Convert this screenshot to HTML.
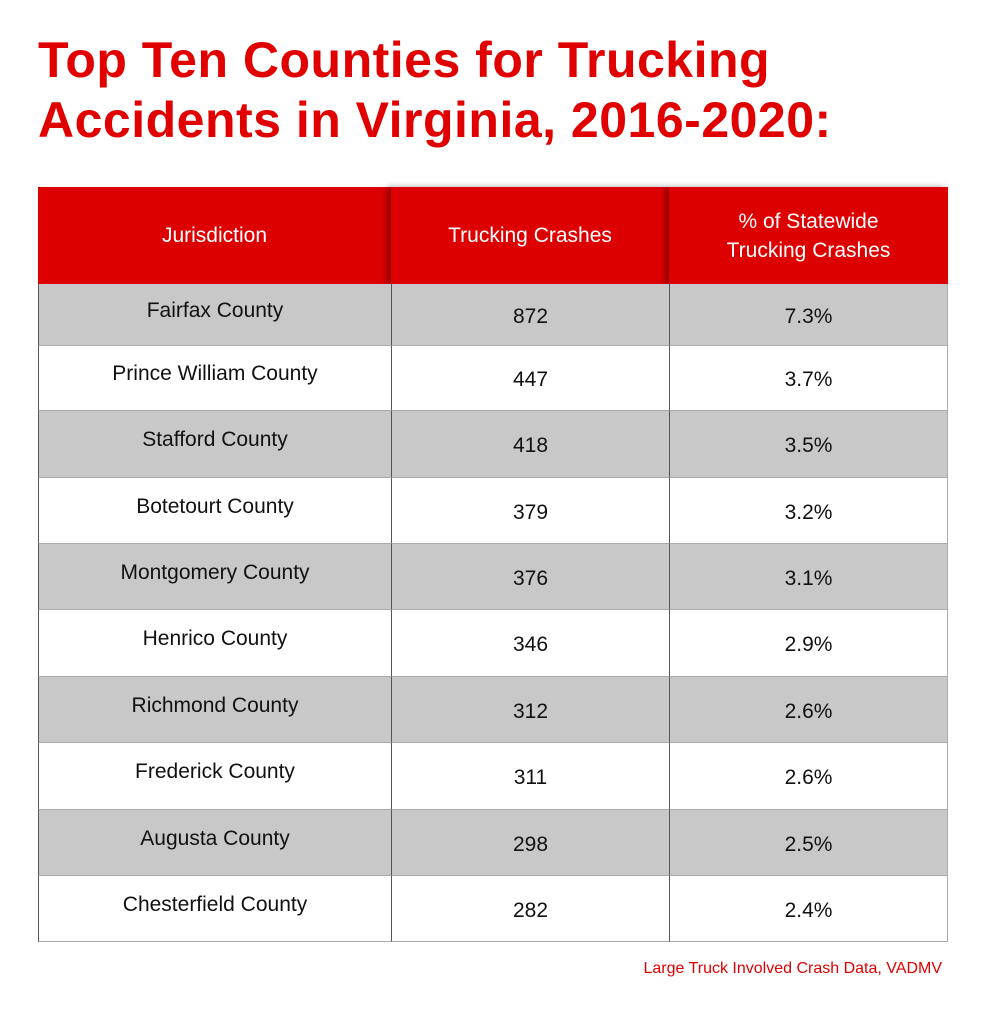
<!DOCTYPE html>
<html><head><meta charset="utf-8"><style>
body{margin:0;width:982px;height:1013px;background:#fff;font-family:"Liberation Sans",sans-serif;position:relative;overflow:hidden}
h1{position:absolute;left:38px;top:30px;margin:0;color:#e00000;font-size:50px;line-height:60px;font-weight:900;letter-spacing:0.5px}
.c{position:absolute;display:flex;align-items:center;justify-content:center;text-align:center;font-size:21px;color:#111;box-sizing:border-box}
.h{background:#dd0000;color:#fff;font-size:21px;line-height:29px}
.src{position:absolute;right:40px;top:960px;color:#e00000;font-size:16px}
</style></head><body>
<h1>Top Ten Counties for Trucking<br>Accidents in Virginia, 2016-2020:</h1>
<div id="t"></div>
<div class="src">Large Truck Involved Crash Data, VADMV</div>
<script>
const counties=["Fairfax County","Prince William County","Stafford County","Botetourt County","Montgomery County","Henrico County","Richmond County","Frederick County","Augusta County","Chesterfield County"];
const crashes=[872,447,418,379,376,346,312,311,298,282];
const shares=["7.3%","3.7%","3.5%","3.2%","3.1%","2.9%","2.6%","2.6%","2.5%","2.4%"];
const headers=["Jurisdiction","Trucking Crashes","% of Statewide<br>Trucking Crashes"];
const colX=[38,391,669,948];
const rowY=[284,346,411,478,544,610,677,743,810,876,942];
const t=document.getElementById('t');
function cell(x,y,w,h,html,cls,name,bg,style){
 const d=document.createElement('div');
 d.className='c '+cls;
 
 
 d.style.cssText=`left:${x}px;top:${y}px;width:${w}px;height:${h}px;${bg?'background:'+bg+';':''}${style||''}`;
 d.innerHTML=html;t.appendChild(d);return d;
}
headers.forEach((h,i)=>{
 cell(colX[i],187,colX[i+1]-colX[i],97,h,'h','header-cell',null,i>0?'box-shadow:-4px 0 6px rgba(0,0,0,0.35);':'');
});
counties.forEach((c,r)=>{
 const y=rowY[r],h=rowY[r+1]-y,bg=r%2==0?'#c8c8c8':'#fff';
 const vals=[c,String(crashes[r]),shares[r]];
 vals.forEach((v,i)=>{
  const off=i==0?'padding-bottom:8px;':'padding-top:4px;';
  cell(colX[i],y,colX[i+1]-colX[i],h,v,'','table-cell',bg,
   `border-bottom:1px solid #aaa;border-left:1px solid #555;${i==2?'border-right:1px solid #aaa;':''}${off}`);
 });
});
</script>
</body></html>
